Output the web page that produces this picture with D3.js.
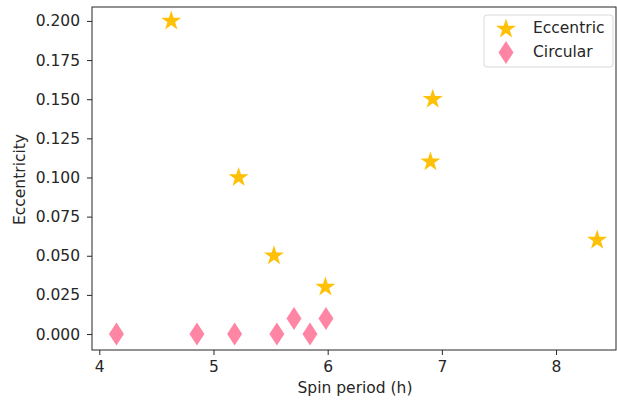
<!DOCTYPE html>
<html>
<head>
<meta charset="utf-8">
<script src="https://cdn.jsdelivr.net/npm/d3@7"></script>
<style>
  body { margin: 0; background: #fff; }
  svg { font-family: "DejaVu Sans", sans-serif; }
  .axis text { font-size: 15.5px; fill: #262626; font-family: "DejaVu Sans", sans-serif; }
  .axis path, .axis line { stroke: #262626; }
</style>
</head>
<body>
<svg width="617" height="400"></svg>
<script>
// Eccentric (stars)
var eccPeriod = [4.63, 5.22, 5.53, 5.98, 6.92, 6.90, 8.36];
var eccValue  = [0.200, 0.100, 0.050, 0.030, 0.150, 0.110, 0.060];
// Circular (diamonds)
var circPeriod = [4.15, 4.855, 5.185, 5.555, 5.705, 5.845, 5.985];
var circValue  = [0.000, 0.000, 0.000, 0.000, 0.010, 0.000, 0.010];

var xTicks = [4, 5, 6, 7, 8];
var yTicks = [0, 0.025, 0.05, 0.075, 0.1, 0.125, 0.15, 0.175, 0.2];

var svg = d3.select("svg");
var margin = {"top": 7, "bottom": 50, "left": 92, "right": 1};
var width = +svg.attr("width") - margin.left - margin.right;
var height = +svg.attr("height") - margin.top - margin.bottom;

var x = d3.scaleLinear().domain([3.936, 8.525]).range([0, width]),
    y = d3.scaleLinear().domain([-0.0102, 0.2089]).range([height, 0]);

var container = svg.append("g")
    .attr("transform", "translate(" + margin.left + "," + margin.top + ")");

var star = d3.symbol().type(d3.symbolStar).size(125);
var diamond = function(w, h) {
  return "M0," + (-h/2) + "L" + (w/2) + ",0L0," + (h/2) + "L" + (-w/2) + ",0Z";
};

// Circular points
container.selectAll(".circ")
    .data(circPeriod)
  .enter().append("path")
    .attr("class", "circ")
    .attr("transform", function(d, i) { return "translate(" + x(d) + "," + y(circValue[i]) + ")"; })
    .attr("d", diamond(15, 23))
    .attr("fill", "#ff85a5");

// Eccentric points
container.selectAll(".ecc")
    .data(eccPeriod)
  .enter().append("path")
    .attr("class", "ecc")
    .attr("transform", function(d, i) { return "translate(" + x(d) + "," + y(eccValue[i]) + ")"; })
    .attr("d", star)
    .attr("fill", "#ffc107");

// X axis
container.append("g")
    .attr("class", "axis x_axis")
    .attr("transform", "translate(0," + height + ")")
    .call(d3.axisBottom(x).tickValues(xTicks).tickFormat(d3.format("d")).tickSizeOuter(0).tickSize(5).tickPadding(6));

// Y axis
container.append("g")
    .attr("class", "axis y_axis")
    .call(d3.axisLeft(y).tickValues(yTicks).tickFormat(d3.format(".3f")).tickSizeOuter(0).tickSize(5).tickPadding(7));

container.selectAll(".axis").attr("font-size", null).attr("font-family", null);

// frame
container.append("rect")
    .attr("width", width).attr("height", height)
    .attr("fill", "none").attr("stroke", "#262626").attr("stroke-width", 1);

container.select(".x_axis .domain").remove();
container.select(".y_axis .domain").remove();

// axis labels
svg.append("text")
    .attr("x", margin.left + width / 2 + 1)
    .attr("y", 393)
    .attr("text-anchor", "middle")
    .style("font-size", "15.5px").attr("fill", "#262626")
    .text("Spin period (h)");

svg.append("text")
    .attr("transform", "translate(25," + (margin.top + height / 2 + 1) + ") rotate(-90)")
    .attr("text-anchor", "middle")
    .style("font-size", "15.5px").attr("fill", "#262626")
    .text("Eccentricity");

// legend
var legend = svg.append("g").attr("transform", "translate(484,15)");
legend.append("rect")
    .attr("width", 129).attr("height", 52).attr("rx", 3)
    .attr("fill", "#fff").attr("stroke", "#d9d9d9");
legend.append("path")
    .attr("transform", "translate(22,14)")
    .attr("d", star).attr("fill", "#ffc107");
legend.append("path")
    .attr("transform", "translate(22,37.5)")
    .attr("d", diamond(15, 23)).attr("fill", "#ff85a5");
legend.append("text").attr("x", 49).attr("y", 18)
    .style("font-size", "15.5px").attr("fill", "#262626").text("Eccentric");
legend.append("text").attr("x", 49).attr("y", 42)
    .style("font-size", "15.5px").attr("fill", "#262626").text("Circular");
</script>
</body>
</html>
